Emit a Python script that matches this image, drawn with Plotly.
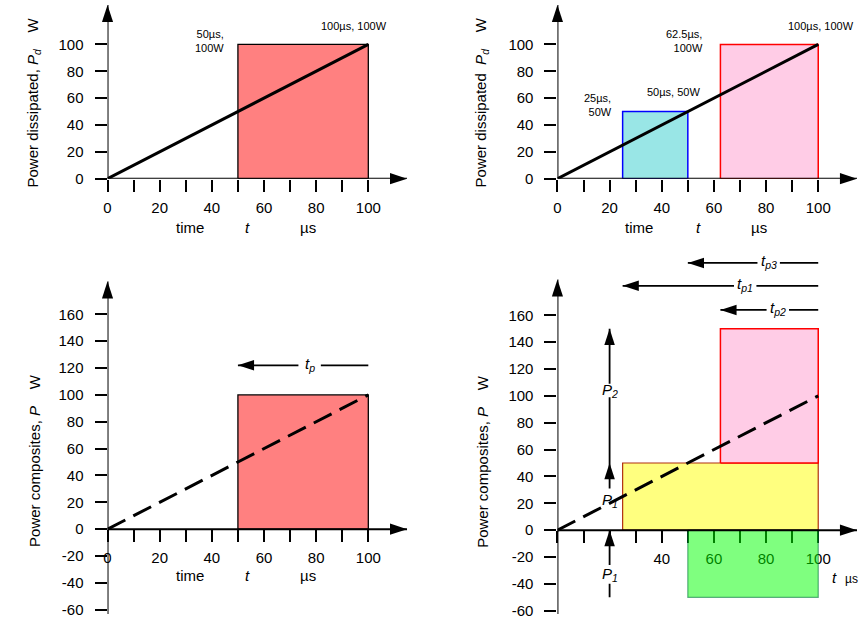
import plotly.graph_objects as go

W, H = 867, 627

# ---------------- data ----------------
ramp_t = [0, 100]          # µs
ramp_p = [0, 100]          # W
tl_pulse_t = [50, 100]
tl_pulse_p = 100
tr_pulse1_t = [25, 50]
tr_pulse1_p = 50
tr_pulse2_t = [62.5, 100]
tr_pulse2_p = 100
bl_pulse_t = [50, 100]
bl_pulse_p = 100
br_P1 = 50
br_P2 = 100
br_yellow_t = [25, 100]
br_pink_t = [62.5, 100]
br_green_t = [50, 100]

x_ticks = list(range(0, 101, 10))
x_labels_full = [str(v) if v % 20 == 0 else "" for v in x_ticks]
x_labels_br = [str(v) if v in (40, 60, 80, 100) else "" for v in x_ticks]
y_ticks_top = list(range(0, 101, 20))
y_ticks_bot = list(range(-60, 161, 20))

FONT = "Liberation Sans, Arial, sans-serif"
SX, SY = 2.62, 1.36


def fx(px):
    return px / W


def fy(py):
    return 1 - py / H


# ox/oy: origin pixel, xe: x-axis end, yt: y-axis end, yb: y-axis bottom, ydt: domain top
panels = {
    1: dict(ox=104, oy=181, xe=405, yt=5, yb=181, ydt=5),
    2: dict(ox=556, oy=181, xe=857, yt=5, yb=181, ydt=5),
    3: dict(ox=104, oy=536, xe=405, yt=285, yb=622, ydt=285),
    4: dict(ox=556, oy=537, xe=857, yt=283, yb=622, ydt=255),
}

fig = go.Figure()
layout = dict(width=W, height=H, margin=dict(l=0, r=0, t=0, b=0), autosize=False,
              paper_bgcolor="white", plot_bgcolor="rgba(0,0,0,0)", showlegend=False,
              font=dict(family=FONT, color="black"))

for i, p in panels.items():
    xr = [0, (p["xe"] - p["ox"]) / SX]
    yr = [(p["oy"] - p["yb"]) / SY, (p["oy"] - p["ydt"]) / SY]
    p["xr"], p["yr"] = xr, yr
    p["ytop"] = (p["oy"] - p["yt"]) / SY
    sfx = "" if i == 1 else str(i)
    xa = dict(domain=[fx(p["ox"]), fx(p["xe"])], range=xr, tickvals=x_ticks,
              ticktext=x_labels_br if i == 4 else x_labels_full,
              ticks="outside", ticklen=12, tickwidth=1.5, tickcolor="black",
              showline=False, showgrid=False,
              zeroline=False, tickfont=dict(size=15, family=FONT), fixedrange=True,
              ticklabelstandoff=3, anchor="free", position=fy(p["oy"]))
    yt = y_ticks_top if i <= 2 else y_ticks_bot
    ya = dict(domain=[fy(p["yb"]), fy(p["ydt"])], range=yr, tickvals=yt,
              ticktext=[str(v) for v in yt],
              ticks="outside", ticklen=12, tickwidth=1.5, tickcolor="black",
              showline=False, showgrid=False,
              zeroline=False, tickfont=dict(size=15, family=FONT), fixedrange=True,
              anchor="x" + sfx, ticklabelstandoff=8)
    if i == 4:
        xa["layer"] = "below traces"
    layout["xaxis" + sfx] = xa
    layout["yaxis" + sfx] = ya


def ax(i):
    s = "" if i == 1 else str(i)
    return "x" + s, "y" + s


def rect(i, x0, x1, y0, y1, fill, line, lw=1):
    xa, ya = ax(i)
    fig.add_trace(go.Scatter(x=[x0, x1, x1, x0, x0], y=[y0, y0, y1, y1, y0],
                             mode="lines", fill="toself", fillcolor=fill,
                             line=dict(color=line, width=lw), xaxis=xa, yaxis=ya,
                             hoverinfo="skip", cliponaxis=False))


def seg(i, xs, ys, width=2, dash=None):
    xa, ya = ax(i)
    fig.add_trace(go.Scatter(x=xs, y=ys, mode="lines",
                             line=dict(color="black", width=width, dash=dash),
                             xaxis=xa, yaxis=ya, hoverinfo="skip", cliponaxis=False))


def head(i, x, y, angle, size=11):
    xa, ya = ax(i)
    fig.add_trace(go.Scatter(x=[x], y=[y], mode="markers",
                             marker=dict(symbol="arrow", size=size, angle=angle,
                                         color="black", line=dict(width=0)),
                             xaxis=xa, yaxis=ya, hoverinfo="skip", cliponaxis=False))


# ---- panel 1 ----
rect(1, tl_pulse_t[0], tl_pulse_t[1], 0, tl_pulse_p, "#FF8080", "black", 1.3)
seg(1, ramp_t, ramp_p, width=3)

# ---- panel 2 ----
rect(2, tr_pulse1_t[0], tr_pulse1_t[1], 0, tr_pulse1_p, "#99E6E6", "#0000FF", 1.5)
rect(2, tr_pulse2_t[0], tr_pulse2_t[1], 0, tr_pulse2_p, "#FFCCE6", "#FF0000", 1.5)
seg(2, ramp_t, ramp_p, width=3)

# ---- panel 3 ----
rect(3, bl_pulse_t[0], bl_pulse_t[1], 0, bl_pulse_p, "#FF8080", "black", 1.3)
seg(3, ramp_t, ramp_p, width=3, dash="20px,9px")

# ---- panel 4 ----
rect(4, br_yellow_t[0], br_yellow_t[1], 0, br_P1, "rgba(255,255,0,0.5)", "#B03010", 1.2)
rect(4, br_pink_t[0], br_pink_t[1], br_P1, br_P1 + br_P2, "#FFCCE6", "#FF0000", 1.5)
rect(4, br_green_t[0], br_green_t[1], 0, -br_P1, "rgba(0,255,0,0.5)", "rgba(0,120,60,0.6)", 1.2)
seg(4, ramp_t, ramp_p, width=3, dash="20px,9px")

# axis lines with arrow heads
for i, p in panels.items():
    seg(i, [0, p["xr"][1]], [0, 0], width=2)
    seg(i, [0, 0], [p["yr"][0], p["ytop"]], width=2)
    head(i, p["xr"][1], 0, 90, 18)
    head(i, 0, p["ytop"], 0, 18)

# horizontal pulse-width arrows (tail at pulse end, head at pulse start)
GAP = 4.3
tp_arrows = [
    (3, bl_pulse_t[0], bl_pulse_t[1], 122, 77.5, "<i>t<sub>p</sub></i>"),
    (4, br_green_t[0], br_green_t[1], 199, 81, "<i>t<sub>p3</sub></i>"),
    (4, br_yellow_t[0], br_yellow_t[1], 182, 72, "<i>t<sub>p1</sub></i>"),
    (4, br_pink_t[0], br_pink_t[1], 164, 84.5, "<i>t<sub>p2</sub></i>"),
]
annotations = []
for i, x0, x1, yv, c, label in tp_arrows:
    seg(i, [x1, c + GAP], [yv, yv], width=1.8)
    seg(i, [c - GAP, x0], [yv, yv], width=1.8)
    head(i, x0, yv, -90, 17)
    xa, ya = ax(i)
    annotations.append(dict(x=c, y=yv, xref=xa, yref=ya, text=label, showarrow=False,
                            font=dict(size=15, family=FONT), yshift=1))

# vertical P arrows in BR at t = 20
PX = 20
seg(4, [PX, PX], [br_P1, 99], width=1.8)
seg(4, [PX, PX], [109, br_P1 + br_P2], width=1.8)
head(4, PX, br_P1 + br_P2, 0, 17)
seg(4, [PX, PX], [31, br_P1], width=1.8)
head(4, PX, br_P1, 0, 17)
seg(4, [PX, PX], [-br_P1, -40], width=1.8)
seg(4, [PX, PX], [-26, 0], width=1.8)
head(4, PX, 0, 0, 17)
for yv, label in [(104, "<i>P<sub>2</sub></i>"), (22, "<i>P<sub>1</sub></i>"),
                  (-33, "<i>P<sub>1</sub></i>")]:
    annotations.append(dict(x=PX, y=yv, xref="x4", yref="y4", text=label, showarrow=False,
                            font=dict(size=15, family=FONT)))

# point labels on top panels
SMALL = dict(size=11, family=FONT)
pt_labels = [
    (1, tl_pulse_t[0], tl_pulse_p, "50µs,<br>100W", "right", -12, 3),
    (1, ramp_t[1], ramp_p[1], "100µs, 100W", "center", -14, 18),
    (2, tr_pulse2_t[0], tr_pulse2_p, "62.5µs,<br>100W", "right", -15, 3),
    (2, tr_pulse1_t[1], tr_pulse1_p, "50µs, 50W", "center", -14, 20),
    (2, tr_pulse1_t[0], tr_pulse1_p, "25µs,<br>50W", "right", -9, 7),
    (2, ramp_t[1], ramp_p[1], "100µs, 100W", "center", 3, 18),
]
for i, x, y, text, anc, xs, ys in pt_labels:
    xa, ya = ax(i)
    annotations.append(dict(x=x, y=y, xref=xa, yref=ya, text=text, showarrow=False,
                            xanchor=anc, yanchor="middle",
                            align="right" if anc == "right" else "center",
                            xshift=xs, yshift=ys, font=SMALL))

# axis titles
titles = [
    (30, 104, "Power dissipated, <i>P<sub>d</sub></i>    W"),
    (480, 104, "Power dissipated  <i>P<sub>d</sub></i>    W"),
    (30, 466, "Power composites, <i>P</i>    W"),
    (480, 467, "Power composites, <i>P</i>    W"),
]
for px, py, text in titles:
    annotations.append(dict(x=fx(px), y=fy(py), xref="paper", yref="paper", text=text,
                            xanchor="center", yanchor="middle",
                            showarrow=False, textangle=-90, font=dict(size=15, family=FONT)))

xlabels = [
    (187, 230, "time", False, 15), (245, 230, "t", True, 15), (305, 230, "µs", False, 15),
    (638, 230, "time", False, 15), (698, 230, "t", True, 15), (758, 230, "µs", False, 15),
    (187, 583, "time", False, 15), (245, 583, "t", True, 15), (305, 583, "µs", False, 15),
    (834, 585, "t", True, 15), (851, 586, "µs", False, 12),
]
for px, py, text, it, sz in xlabels:
    annotations.append(dict(x=fx(px), y=fy(py), xref="paper", yref="paper",
                            xanchor="center", yanchor="middle",
                            text=f"<i>{text}</i>" if it else text, showarrow=False,
                            font=dict(size=sz, family=FONT)))

layout["annotations"] = annotations
fig.update_layout(**layout)
fig.write_html("out.html", config={"displayModeBar": False},
               post_script="document.body.style.margin='0';document.body.style.padding='0';")
